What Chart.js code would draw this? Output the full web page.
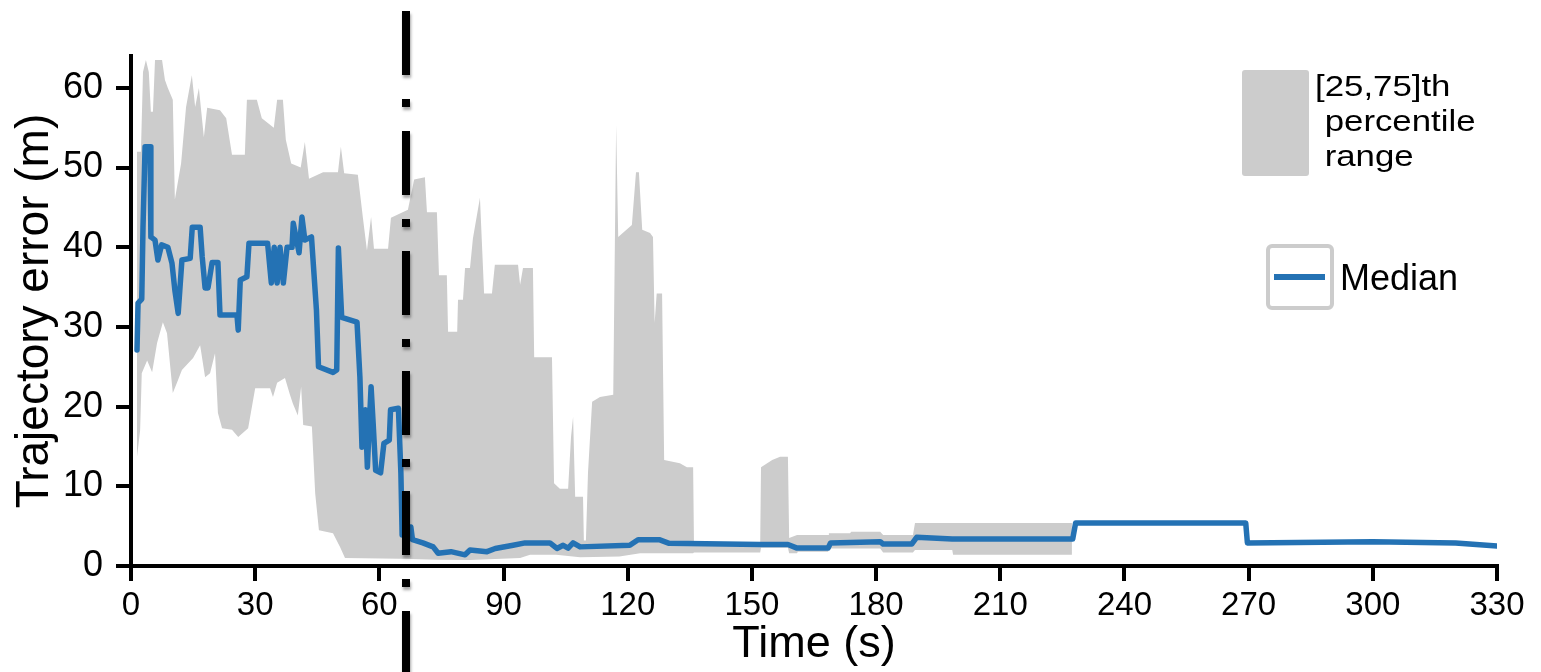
<!DOCTYPE html>
<html>
<head>
<meta charset="utf-8">
<script src="https://cdn.jsdelivr.net/npm/chart.js@4.4.1/dist/chart.umd.min.js"></script>
<style>
  html, body { margin: 0; padding: 0; background: #fff; }
  #wrap { position: relative; width: 1541px; height: 672px; }
</style>
</head>
<body>
<div id="wrap"><canvas id="chart"></canvas></div>
<script>
const FONT = "'Liberation Sans', Arial, Helvetica, sans-serif";

// time (s), error (m)
const upperBand = [
  [1.45, 52], [2.4, 52], [2.9, 62], [3.6, 63.5], [4.3, 62], [4.8, 57], [5.3, 57], [5.8, 63.5], [7.5, 63.5],
  [8.2, 61], [8.9, 60], [10.1, 58.5], [10.6, 46], [12.1, 50.5], [13.3, 57.6], [14.7, 61.6], [15.5, 57.6],
  [16.4, 60], [17.6, 53.8], [18.4, 57.5], [21.5, 57.2], [23, 56.2], [24.4, 51.6], [27.5, 51.6], [28, 58.5],
  [30.4, 58.5], [31.6, 56.2], [34.5, 55], [35.3, 58.5], [36.7, 58.5], [37.4, 53.5], [38.7, 50.5], [41, 50],
  [42, 53.2], [43, 48.6], [46.4, 49.4], [50, 49.4], [50.7, 52.6], [51.5, 49.3], [54.8, 49.1], [56, 43.8],
  [57, 39.6], [58, 43.8], [58.7, 39.8], [62.1, 39.8], [62.8, 43.7], [66.9, 44.7], [68.4, 48.5], [71, 48.8],
  [71.5, 44.4], [73.9, 44.4], [74.4, 36.5], [76.3, 36.5], [76.6, 29.4], [78.8, 29.4], [79, 33.4], [80.2, 33.4],
  [80.7, 37.4], [81.9, 37.4], [82.6, 41.1], [84.3, 46.2], [85.3, 34.2], [87.2, 34.2], [87.9, 37.8], [93.5, 37.8],
  [94, 35.3], [94.7, 37.4], [97.1, 37.4], [97.4, 26.2], [101.7, 26.2], [102.2, 10.4], [103.6, 9.7], [105.6, 9.7],
  [106.3, 16.2], [106.8, 18.7], [107.3, 8.7], [109.2, 8.7], [109.4, 3.2], [109.9, 3.2], [110.4, 11.7],
  [111.4, 20.6], [113.3, 21.2], [116.5, 21.5], [117.2, 55.3], [117.4, 55.3], [117.7, 41.3], [121, 42.8],
  [122, 49.4], [122.7, 49.4], [123.5, 42.2], [125.4, 41.8], [126.1, 41.3], [126.5, 30.5], [127, 34.2],
  [128.3, 34.2], [128.8, 13.3], [132.6, 12.9], [134.3, 12.4], [135.8, 12.4], [136, 2.9], [152, 2.9],
  [152.2, 12.4], [154.9, 13.3], [156.8, 13.7], [158.7, 13.7], [159, 3.5], [160.9, 3.9], [168.4, 3.9],
  [168.6, 4.1], [173.7, 4.1], [174, 4.3], [181, 4.3], [181.7, 3.9], [188.9, 3.9], [189.4, 5.4], [227.3, 5.4]
];

const lowerBand = [
  [1.45, 13.7], [2.2, 17], [2.6, 24.2], [3.9, 25.8], [5.1, 24.3], [6.3, 28], [7.7, 30.6], [8.7, 29.2],
  [10.1, 21.7], [11.1, 23], [12.3, 24.6], [15, 26.1], [16.7, 27.7], [17.9, 23.7], [19.1, 24.2], [20.3, 26.7],
  [21, 19.2], [22, 17.3], [24.4, 17.1], [25.9, 16.2], [28.3, 17.3], [30, 22.3], [33.6, 22.3], [34.3, 21.2],
  [35.3, 23], [37.2, 23.6], [38.4, 21.5], [39.1, 20.4], [40.3, 18.9], [41.1, 22.5], [41.6, 17.7], [43.7, 17.5],
  [44.5, 9.1], [45.4, 4.5], [48.8, 4.1], [50.5, 2.4], [51.7, 1.0], [65, 0.9], [74.2, 0.8], [81.9, 0.75],
  [94, 1.0], [96.4, 1.4], [102.7, 1.4], [108.5, 1.1], [118, 1.2], [123, 1.6], [135.8, 1.6], [136, 1.7],
  [152, 1.7], [152.2, 2.3], [158.7, 2.3], [159, 1.6], [160.9, 1.6], [161.1, 1.8], [168.4, 1.8], [168.6, 2.2],
  [181, 2.2], [181.7, 1.7], [188.9, 1.7], [189.4, 2.0], [198.4, 2.0], [198.6, 1.4], [227.3, 1.4]
];

const medianLine = [
  [1.45, 27.1], [1.7, 33], [2.6, 33.5], [2.9, 42.5], [3.4, 52.6], [4.6, 52.6], [4.8, 41.3], [5.8, 40.9],
  [6.5, 38.4], [7.4, 40.3], [8.9, 40], [9.9, 38], [10.6, 34.6], [11.4, 31.7], [12.3, 38.4], [14.3, 38.6],
  [14.8, 42.5], [16.7, 42.5], [17.2, 38.8], [17.9, 34.9], [18.6, 34.9], [19.6, 38.1], [21, 38.1], [21.5, 31.5],
  [25.6, 31.5], [25.9, 29.6], [26.4, 35.9], [28, 36.3], [28.5, 40.5], [33, 40.5], [33.9, 35.5], [34.6, 40],
  [35.3, 35.5], [36, 40], [36.8, 35.5], [37.7, 40], [38.9, 40], [39.2, 43], [40.6, 39.3], [41.3, 43.8],
  [42, 40.9], [43.6, 41.3], [44.8, 32.1], [45.3, 25], [48.8, 24.3], [49.7, 24.6], [50.1, 39.9], [50.9, 31.2],
  [54.6, 30.6], [55.3, 23.7], [55.8, 14.9], [56.6, 19.6], [57.1, 12.4], [58, 22.5], [58.5, 17.9], [59.1, 12],
  [60.3, 11.7], [61.1, 15.4], [62.4, 15.8], [62.7, 19.6], [64.6, 19.8], [65.2, 11.7], [65.5, 3.9], [67.2, 3.9],
  [67.6, 4.9], [68, 3.3], [70.5, 2.9], [73, 2.4], [74.2, 1.6], [77.3, 1.8], [80.7, 1.4], [81.9, 2.0], [86, 1.8],
  [88, 2.2], [92.3, 2.6], [95.2, 2.9], [101.2, 2.9], [102.9, 2.2], [104.4, 2.6], [105.6, 2.25], [106.8, 2.9],
  [108.5, 2.4], [120.5, 2.6], [122.5, 3.3], [127.6, 3.3], [130, 2.85], [152, 2.7], [158.7, 2.7], [160.9, 2.25],
  [168.4, 2.25], [169, 2.9], [181, 3.05], [181.7, 2.75], [188.6, 2.75], [189.8, 3.6], [198.4, 3.4], [227.5, 3.4],
  [228.2, 5.4], [269.3, 5.4], [269.7, 2.9], [300, 3.05], [320, 2.9], [330, 2.5]
];

const xTicks = [0, 30, 60, 90, 120, 150, 180, 210, 240, 270, 300, 330];
const yTicks = [0, 10, 20, 30, 40, 50, 60];
const phaseChangeTime = 66.4;
const bandLabel = ['[25,75]th', ' percentile', ' range'];
const medianLabel = 'Median';

const GREY = '#cccccc';
const BLUE = '#2472b4';

const toPoints = (arr) => arr.map(([x, y]) => ({ x, y }));

// dash-dot marker line + hand-drawn legend boxes
const overlay = {
  id: 'overlay',
  afterDraw(chart) {
    const { ctx, scales: { x } } = chart;
    const px = Math.round(x.getPixelForValue(phaseChangeTime));
    ctx.save();
    ctx.strokeStyle = '#000';
    ctx.lineWidth = 8;
    ctx.setLineDash([64, 24, 8, 24]);
    ctx.shadowColor = 'rgba(0,0,0,0.35)';
    ctx.shadowBlur = 3;
    ctx.shadowOffsetX = 1;
    ctx.shadowOffsetY = 3;
    ctx.beginPath();
    ctx.moveTo(px, 11);
    ctx.lineTo(px, chart.height);
    ctx.stroke();
    ctx.restore();

    ctx.save();
    // percentile swatch
    ctx.fillStyle = GREY;
    ctx.beginPath();
    ctx.roundRect(1242, 70, 67, 106, 3);
    ctx.fill();
    ctx.fillStyle = '#000';
    ctx.textBaseline = 'alphabetic';
    ctx.font = `29px ${FONT}`;
    bandLabel.forEach((line, i) => {
      ctx.save();
      ctx.translate(1315, 96 + i * 35);
      ctx.scale(1.2, 1);
      ctx.fillText(line, 0, 0);
      ctx.restore();
    });
    // median swatch
    ctx.strokeStyle = GREY;
    ctx.lineWidth = 4;
    ctx.beginPath();
    ctx.roundRect(1268, 246, 64, 62, 4);
    ctx.stroke();
    ctx.strokeStyle = BLUE;
    ctx.lineWidth = 6;
    ctx.beginPath();
    ctx.moveTo(1274, 277);
    ctx.lineTo(1325, 277);
    ctx.stroke();
    ctx.font = `36px ${FONT}`;
    ctx.fillText(medianLabel, 1340, 290);
    ctx.restore();
  }
};

const axisCommon = {
  border: { display: true, color: '#000', width: 4 },
  grid: { display: true, drawOnChartArea: false, drawTicks: true, tickLength: 15, tickWidth: 4, tickColor: '#000', color: '#000', lineWidth: 4 },
};

new Chart(document.getElementById('chart'), {
  type: 'line',
  data: {
    datasets: [
      { label: '25th', data: toPoints(lowerBand), borderWidth: 0, pointRadius: 0, fill: false, order: 2 },
      { label: '[25,75]th percentile range', data: toPoints(upperBand), borderWidth: 0, pointRadius: 0,
        backgroundColor: GREY, fill: '-1', order: 1 },
      { label: 'Median', data: toPoints(medianLine), borderColor: BLUE, borderWidth: 5.5, pointRadius: 0,
        fill: false, order: 0, borderJoinStyle: 'round', borderCapStyle: 'round' }
    ]
  },
  options: {
    responsive: true,
    maintainAspectRatio: false,
    animation: false,
    layout: { padding: { top: 56, right: 44, left: 0, bottom: 0 } },
    plugins: { legend: { display: false }, tooltip: { enabled: false } },
    elements: { line: { tension: 0 } },
    scales: {
      x: {
        ...axisCommon,
        type: 'linear',
        min: 0,
        max: 330,
        afterBuildTicks: (s) => { s.ticks = xTicks.map(v => ({ value: v })); },
        afterFit: (s) => { s.height = 106; },
        ticks: { color: '#000', padding: 5, font: { family: FONT, size: 33 } },
        title: { display: true, text: 'Time (s)', color: '#000', padding: { top: 0, bottom: 0 }, font: { family: FONT, size: 45 } }
      },
      y: {
        ...axisCommon,
        min: 0,
        max: 64,
        afterBuildTicks: (s) => { s.ticks = yTicks.map(v => ({ value: v })); },
        afterFit: (s) => { s.width = 131; },
        ticks: { color: '#000', padding: 13, font: { family: FONT, size: 36 } },
        title: { display: true, text: 'Trajectory error (m)', color: '#000', padding: { top: 8, bottom: 0 }, font: { family: FONT, size: 46 } }
      }
    }
  },
  plugins: [overlay]
});
</script>
</body>
</html>
